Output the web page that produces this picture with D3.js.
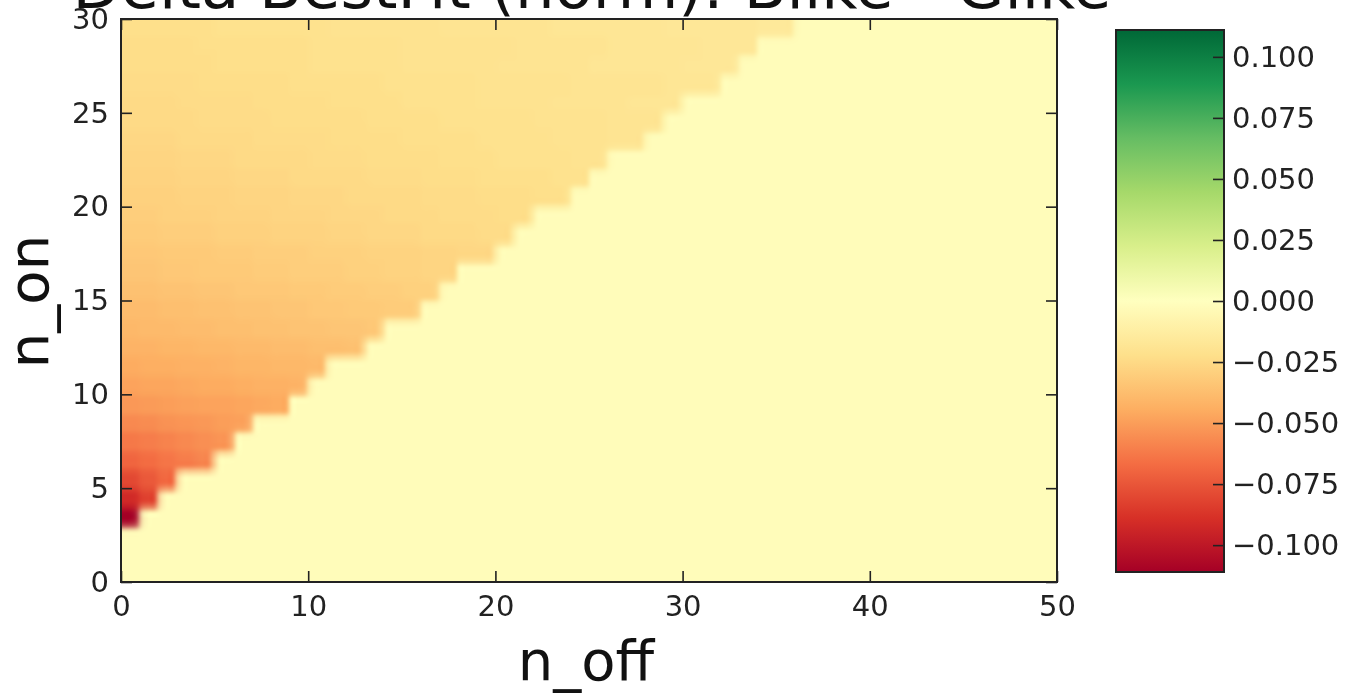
<!DOCTYPE html>
<html>
<head>
<meta charset="utf-8">
<script src="https://cdn.jsdelivr.net/npm/d3@7"></script>
<style>
  html, body { margin: 0; padding: 0; background: #fff; }
  #wrap { position: relative; width: 1350px; height: 693px; overflow: hidden; }
  #heat { position: absolute; }
  svg { position: absolute; left: 0; top: 0; display: block; font-family: "DejaVu Sans", "Liberation Sans", sans-serif; }
</style>
</head>
<body>
<div id="wrap">
  <canvas id="heat"></canvas>
  <svg id="chart" width="1350" height="693"></svg>
</div>
<script>
// Grid: one cell per integer bin of n_off (columns) and n_on (rows)
const nOffBins = d3.range(0, 50);
const nOnBins = d3.range(0, 30);

// Delta best-fit values (x 1e-3) on the n_on > ~0.74 n_off + 3 wedge, row by row
// starting at n_off = 0; every other cell sits on the flat plateau value
const plateauMilli = -2;
const wedgeRowsMilli = [
  [],
  [],
  [],
  [-111],
  [-92, -82],
  [-80, -74, -68],
  [-70, -67, -64, -61, -58],
  [-63, -61, -59, -57, -55, -53],
  [-57, -56, -54, -53, -52, -50, -49],
  [-52, -51, -50, -49, -48, -48, -47, -46, -45],
  [-48, -47, -47, -46, -45, -45, -44, -43, -43, -42],
  [-45, -44, -44, -43, -43, -42, -41, -41, -40, -40, -39],
  [-42, -42, -41, -41, -40, -40, -39, -39, -38, -38, -37, -37, -36],
  [-40, -39, -39, -38, -38, -37, -37, -36, -36, -35, -35, -34, -34, -33],
  [-38, -38, -37, -37, -36, -36, -35, -35, -34, -34, -33, -33, -32, -32, -31, -31],
  [-36, -36, -35, -35, -34, -34, -33, -33, -33, -32, -32, -31, -31, -30, -30, -29, -29],
  [-34, -34, -33, -33, -32, -32, -32, -31, -31, -30, -30, -30, -29, -29, -28, -28, -27, -27],
  [-33, -33, -32, -32, -32, -31, -31, -30, -30, -30, -29, -29, -29, -28, -28, -28, -27, -27, -26, -26],
  [-31, -31, -30, -30, -30, -29, -29, -29, -28, -28, -28, -27, -27, -26, -26, -26, -25, -25, -25, -24, -24],
  [-30, -30, -29, -29, -29, -28, -28, -28, -27, -27, -27, -26, -26, -26, -25, -25, -25, -24, -24, -24, -23, -23],
  [-29, -29, -29, -28, -28, -28, -27, -27, -27, -26, -26, -26, -25, -25, -25, -25, -24, -24, -24, -23, -23, -23, -22, -22],
  [-28, -28, -28, -27, -27, -27, -26, -26, -26, -25, -25, -25, -25, -24, -24, -24, -23, -23, -23, -22, -22, -22, -22, -21, -21],
  [-27, -27, -27, -26, -26, -26, -25, -25, -25, -25, -24, -24, -24, -23, -23, -23, -23, -22, -22, -22, -21, -21, -21, -21, -20, -20],
  [-26, -26, -26, -25, -25, -25, -25, -24, -24, -24, -24, -23, -23, -23, -23, -22, -22, -22, -22, -21, -21, -21, -21, -20, -20, -20, -19, -19],
  [-25, -25, -25, -25, -24, -24, -24, -24, -23, -23, -23, -23, -23, -22, -22, -22, -22, -21, -21, -21, -21, -21, -20, -20, -20, -20, -19, -19, -19],
  [-25, -25, -25, -24, -24, -24, -24, -23, -23, -23, -23, -22, -22, -22, -22, -21, -21, -21, -21, -20, -20, -20, -20, -19, -19, -19, -19, -18, -18, -18],
  [-24, -24, -24, -24, -23, -23, -23, -23, -23, -22, -22, -22, -22, -22, -21, -21, -21, -21, -21, -20, -20, -20, -20, -20, -19, -19, -19, -19, -19, -18, -18, -18],
  [-23, -23, -23, -23, -23, -22, -22, -22, -22, -22, -21, -21, -21, -21, -21, -20, -20, -20, -20, -20, -19, -19, -19, -19, -19, -18, -18, -18, -18, -18, -17, -17, -17],
  [-23, -23, -23, -23, -22, -22, -22, -22, -22, -22, -21, -21, -21, -21, -21, -20, -20, -20, -20, -20, -20, -19, -19, -19, -19, -19, -18, -18, -18, -18, -18, -17, -17, -17],
  [-22, -22, -22, -22, -22, -21, -21, -21, -21, -21, -21, -20, -20, -20, -20, -20, -20, -19, -19, -19, -19, -19, -19, -18, -18, -18, -18, -18, -18, -17, -17, -17, -17, -17, -16, -16]
];

const xTicks = [0, 10, 20, 30, 40, 50];
const yTicks = [0, 5, 10, 15, 20, 25, 30];
const colorTicks = [-0.1, -0.075, -0.05, -0.025, 0, 0.025, 0.05, 0.075, 0.1];
const colorDomain = [-0.111, 0.111];

const titleText = "Delta BestFit (norm): Blike - Glike";
const xLabel = "n_off";
const yLabel = "n_on";

// ---- layout ----
const plot = { left: 121, right: 1057, top: 19, bottom: 582 };
const bar = { left: 1116, right: 1224, top: 30, bottom: 572 };
const tickLen = 11;
const ink = "#222";

const svg = d3.select("#chart");
const x = d3.scaleLinear().domain([0, 50]).range([plot.left, plot.right]);
const y = d3.scaleLinear().domain([0, 30]).range([plot.bottom, plot.top]);

// RdYlGn as eleven evenly spaced anchors with straight-line blending between them
const rdylgn = d3.schemeRdYlGn[11];
const color = d3.scaleLinear()
  .domain(rdylgn.map((_, k) => colorDomain[0] + k / 10 * (colorDomain[1] - colorDomain[0])))
  .range(rdylgn)
  .interpolate(d3.interpolateRgb)
  .clamp(true);

const cells = [];
nOnBins.forEach(j => {
  const row = wedgeRowsMilli[j];
  nOffBins.forEach(i => {
    const milli = i < row.length ? row[i] : plateauMilli;
    cells.push({ i, j, v: milli / 1000 });
  });
});

// ---- heat map: cells painted off-screen with a margin, resampled through a
// coarser buffer so the cell edges come out soft, then cropped to the plot box ----
const pad = 24;
const pw = plot.right - plot.left, ph = plot.bottom - plot.top;
const off = document.createElement("canvas");
off.width = pw + 2 * pad; off.height = ph + 2 * pad;
const octx = off.getContext("2d");
const lastI = nOffBins[nOffBins.length - 1];
const lastJ = nOnBins[nOnBins.length - 1];
cells.forEach(d => {
  let x0 = x(d.i) - plot.left + pad, x1 = x(d.i + 1) - plot.left + pad;
  let y0 = y(d.j + 1) - plot.top + pad, y1 = y(d.j) - plot.top + pad;
  if (d.i === 0) x0 -= pad;
  if (d.i === lastI) x1 += pad;
  if (d.j === lastJ) y0 -= pad;
  if (d.j === 0) y1 += pad;
  octx.fillStyle = color(d.v);
  octx.fillRect(Math.floor(x0), Math.floor(y0), Math.ceil(x1) - Math.floor(x0), Math.ceil(y1) - Math.floor(y0));
});

const k = 6; // resampling factor
const small = document.createElement("canvas");
small.width = Math.round(off.width / k); small.height = Math.round(off.height / k);
const sctx = small.getContext("2d");
sctx.imageSmoothingEnabled = true;
sctx.imageSmoothingQuality = "high";
sctx.drawImage(off, 0, 0, small.width, small.height);

const heat = document.getElementById("heat");
heat.width = pw; heat.height = ph;
heat.style.left = plot.left + "px"; heat.style.top = plot.top + "px";
const hctx = heat.getContext("2d");
hctx.imageSmoothingEnabled = true;
hctx.imageSmoothingQuality = "high";
hctx.drawImage(small, 0, 0, small.width, small.height,
  -pad, -pad, off.width, off.height);

// ---- axes with inward ticks on all four sides ----
function styleAxis(g, fontSize) {
  g.select(".domain").remove();
  g.selectAll(".tick line").attr("stroke", ink).attr("stroke-width", 1.6);
  g.selectAll(".tick text").attr("fill", ink).style("font-size", fontSize + "px")
    .style("font-family", "'DejaVu Sans', sans-serif");
}

svg.append("g").attr("transform", `translate(0,${plot.bottom})`)
  .call(d3.axisBottom(x).tickValues(xTicks).tickSize(-tickLen).tickPadding(13).tickFormat(d3.format("d")))
  .call(g => styleAxis(g, 29));
svg.append("g").attr("transform", `translate(0,${plot.top})`)
  .call(d3.axisTop(x).tickValues(xTicks).tickSize(-tickLen).tickFormat(""))
  .call(g => styleAxis(g, 29));
svg.append("g").attr("transform", `translate(${plot.left},0)`)
  .call(d3.axisLeft(y).tickValues(yTicks).tickSize(-tickLen).tickPadding(12).tickFormat(d3.format("d")))
  .call(g => styleAxis(g, 29));
svg.append("g").attr("transform", `translate(${plot.right},0)`)
  .call(d3.axisRight(y).tickValues(yTicks).tickSize(-tickLen).tickFormat(""))
  .call(g => styleAxis(g, 29));

svg.append("rect")
  .attr("x", plot.left).attr("y", plot.top)
  .attr("width", pw).attr("height", ph)
  .attr("fill", "none").attr("stroke", ink).attr("stroke-width", 2);

// ---- colour bar ----
const defs = svg.append("defs");
const cbY = d3.scaleLinear().domain(colorDomain).range([bar.bottom, bar.top]);
const grad = defs.append("linearGradient").attr("id", "cb-grad")
  .attr("x1", 0).attr("y1", 1).attr("x2", 0).attr("y2", 0);
rdylgn.forEach((c, n) => {
  grad.append("stop").attr("offset", n / 10).attr("stop-color", c);
});
svg.append("rect")
  .attr("x", bar.left).attr("y", bar.top)
  .attr("width", bar.right - bar.left).attr("height", bar.bottom - bar.top)
  .attr("fill", "url(#cb-grad)");
svg.append("g").attr("transform", `translate(${bar.right},0)`)
  .call(d3.axisRight(cbY).tickValues(colorTicks).tickSize(-tickLen).tickPadding(8).tickFormat(d3.format(".3f")))
  .call(g => styleAxis(g, 29));
svg.append("rect")
  .attr("x", bar.left).attr("y", bar.top)
  .attr("width", bar.right - bar.left).attr("height", bar.bottom - bar.top)
  .attr("fill", "none").attr("stroke", ink).attr("stroke-width", 2);

// ---- labels and title ----
svg.append("text")
  .attr("x", (plot.left + plot.right) / 2 + 3).attr("y", 8)
  .attr("text-anchor", "middle").attr("fill", "#111")
  .style("font-size", "62.5px")
  .text(titleText);

svg.append("text")
  .attr("x", 586).attr("y", 680)
  .attr("text-anchor", "middle").attr("fill", "#111")
  .style("font-size", "56px")
  .text(xLabel);

svg.append("text")
  .attr("transform", `translate(48,${(plot.top + plot.bottom) / 2 + 1}) rotate(-90)`)
  .attr("text-anchor", "middle").attr("fill", "#111")
  .style("font-size", "56px")
  .text(yLabel);
</script>
</body>
</html>
